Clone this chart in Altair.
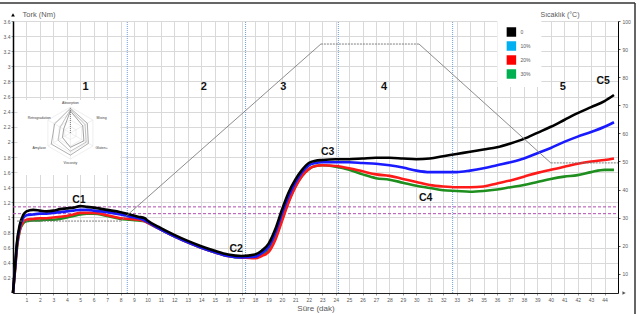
import math
import altair as alt
import pandas as pd

# ---------------- data ----------------
T = [0, 0.15, 0.3, 0.5, 0.75, 1, 1.5, 2, 2.5, 3, 3.5, 4, 4.5, 5, 5.5, 6, 7, 8, 8.7, 9.3, 9.8,
     10, 11, 12, 13, 14, 15, 16, 17, 18, 18.5, 19, 19.5, 20, 20.5, 21, 21.5, 22, 22.5, 23,
     24, 25, 26, 27, 28, 29, 30, 31, 32, 33, 34, 35, 36, 37, 38, 39, 40, 41, 42, 43, 44, 44.7]

black = [0, 0.35, 0.68, 0.90, 1.03, 1.08, 1.10, 1.09, 1.08, 1.09, 1.11, 1.12, 1.13, 1.15, 1.14, 1.13, 1.10, 1.07, 1.04, 1.01, 0.99,
         0.96, 0.86, 0.77, 0.69, 0.62, 0.56, 0.51, 0.49, 0.51, 0.56, 0.65, 0.84, 1.10, 1.33, 1.50, 1.63, 1.72, 1.75, 1.76,
         1.77, 1.77, 1.78, 1.79, 1.79, 1.78, 1.77, 1.78, 1.81, 1.84, 1.87, 1.90, 1.93, 1.98, 2.04, 2.12, 2.20, 2.29, 2.38, 2.46, 2.54, 2.62]
blue = [0, 0.33, 0.65, 0.87, 0.99, 1.03, 1.04, 1.05, 1.05, 1.06, 1.07, 1.08, 1.09, 1.10, 1.10, 1.09, 1.07, 1.04, 1.01, 0.99, 0.96,
        0.94, 0.84, 0.75, 0.67, 0.60, 0.54, 0.49, 0.47, 0.48, 0.53, 0.61, 0.79, 1.05, 1.28, 1.46, 1.60, 1.69, 1.72, 1.73,
        1.73, 1.73, 1.72, 1.71, 1.69, 1.66, 1.62, 1.60, 1.60, 1.60, 1.62, 1.65, 1.69, 1.73, 1.78, 1.85, 1.92, 2.00, 2.07, 2.13, 2.20, 2.26]
red = [0, 0.30, 0.62, 0.83, 0.94, 0.97, 0.98, 0.99, 0.99, 1.00, 1.01, 1.02, 1.04, 1.06, 1.06, 1.06, 1.03, 0.99, 0.98, 0.97, 0.95,
       0.93, 0.84, 0.75, 0.67, 0.60, 0.54, 0.49, 0.47, 0.46, 0.49, 0.54, 0.70, 0.95, 1.20, 1.40, 1.55, 1.64, 1.68, 1.69,
       1.68, 1.65, 1.61, 1.57, 1.55, 1.51, 1.47, 1.43, 1.41, 1.40, 1.40, 1.41, 1.45, 1.49, 1.54, 1.59, 1.63, 1.67, 1.71, 1.74, 1.76, 1.78]
green = [0, 0.30, 0.60, 0.82, 0.92, 0.95, 0.96, 0.96, 0.97, 0.97, 0.98, 1.00, 1.02, 1.04, 1.05, 1.05, 1.02, 0.98, 0.97, 0.96, 0.95,
         0.93, 0.84, 0.75, 0.67, 0.60, 0.54, 0.49, 0.47, 0.47, 0.50, 0.56, 0.72, 0.97, 1.21, 1.41, 1.55, 1.64, 1.68, 1.69,
         1.67, 1.63, 1.57, 1.52, 1.50, 1.46, 1.42, 1.39, 1.36, 1.35, 1.34, 1.35, 1.37, 1.40, 1.43, 1.47, 1.51, 1.54, 1.56, 1.60, 1.63, 1.63]

series_names = ["0", "10%", "20%", "30%"]
line_colors = ["#000000", "#1a1aff", "#ff1a1a", "#1e8f1e"]
legend_colors = ["#000000", "#00b0f0", "#ff0000", "#00b050"]

# temperature profile (°C)
temp_t = [0.3, 8.0, 22.9, 30.2, 40.0, 45.0]
temp_c = [28.8, 28.8, 91.8, 91.8, 49.5, 49.5]
temp_seg_kind = ["flat", "ramp", "flat", "ramp", "flat"]

# phase numbers and curve point labels
phase_labels = ["1", "2", "3", "4", "5"]
phase_t = [5.4, 14.2, 20.1, 27.6, 40.9]
phase_v = [2.73, 2.73, 2.73, 2.73, 2.73]

c_labels = ["C1", "C2", "C3", "C4", "C5"]
c_t = [4.9, 16.6, 23.4, 30.7, 43.9]
c_v = [1.23, 0.58, 1.87, 1.26, 2.80]

limit_lines = [1.14, 1.05]
phase_bounds = [8.5, 17.3, 24.2, 32.7]

# radar inset (Mixolab profiler)
radar_axes = ["Absorption", "Mixing", "Gluten+", "Viscosity", "Amylase", "Retrogradation"]
radar_s1 = [0.95, 0.75, 0.80, 0.85, 0.85, 0.70]
radar_s2 = [0.90, 0.65, 0.70, 0.70, 0.55, 0.45]
radar_s3 = [0.85, 0.55, 0.60, 0.55, 0.35, 0.30]
radar_colors = ["#8c8c8c", "#a6a6a6", "#7a7a7a"]

# ---------------- geometry ----------------
W, H = 605, 272
XMAX, YMAX = 45, 3.6
PXM = W / XMAX       # px per minute
PXN = H / YMAX       # px per Nm

xs = alt.Scale(domain=[0, XMAX], nice=False, zero=False)
ys = alt.Scale(domain=[0, YMAX], nice=False, zero=False)
FONT = "Liberation Sans"
GREY = "#595959"

xaxis = alt.Axis(values=list(range(1, 45)), grid=True, gridColor="#d9d9d9", gridWidth=1,
                 domainColor="#222222", domainWidth=1, tickSize=2, tickColor="#999999",
                 labelFontSize=5, labelColor=GREY, labelFont=FONT, labelPadding=2,
                 title="Süre (dak)", titleFont=FONT, titleFontSize=8, titleFontWeight="normal",
                 titleColor=GREY, titlePadding=2)
yaxis = alt.Axis(values=[round(0.2 * i, 1) for i in range(1, 19)], format="~g", grid=True,
                 gridColor="#d9d9d9", gridWidth=1, domainColor="#000000", domainWidth=1.5,
                 tickSize=2, tickColor="#999999", labelFontSize=5, labelColor=GREY, labelFont=FONT,
                 labelPadding=1,
                 title="Tork (Nm)", titleFont=FONT, titleFontSize=7.5, titleFontWeight="normal",
                 titleColor=GREY, titleAngle=0, titleAlign="left", titleBaseline="middle",
                 titleX=9, titleY=-7)


def X(f="t"):
    return alt.X(f"{f}:Q", scale=xs, axis=xaxis)


def Y(f="v"):
    return alt.Y(f"{f}:Q", scale=ys, axis=yaxis)


layers = []

# radar inset background
rx0, rx1, ry0, ry1 = 17, 120, 100, 175
box = pd.DataFrame({"t": [(rx0 - 12.6) / PXM], "t2": [(rx1 - 12.6) / PXM],
                    "v": [(293 - ry1) / PXN], "v2": [(293 - ry0) / PXN]})
layers.append(alt.Chart(box).mark_rect(color="white").encode(x=X(), x2="t2:Q", y=Y(), y2="v2:Q"))

# radar geometry
cx, cy = (70 - 12.6) / PXM, (293 - 133) / PXN
R = 26
angles = [90, 30, -30, -90, -150, 150]


def radar_pt(r, a, rxpx=R, rypx=R):
    return (cx + r * rxpx * math.cos(math.radians(a)) / PXM,
            cy + r * rypx * math.sin(math.radians(a)) / PXN)


grid_rows = []
for lvl in [0.25, 0.5, 0.75, 1.0]:
    for i, a in enumerate(angles + [angles[0]]):
        px, py = radar_pt(lvl, a)
        grid_rows.append({"g": f"h{lvl}", "o": i, "t": px, "v": py})
for k, a in enumerate(angles):
    for i, r in enumerate([0, 1]):
        px, py = radar_pt(r, a)
        grid_rows.append({"g": f"s{k}", "o": i, "t": px, "v": py})
layers.append(alt.Chart(pd.DataFrame(grid_rows)).mark_line(color="#e4e4e4", strokeWidth=0.6)
              .encode(x=X(), y=Y(), detail="g:N", order="o:Q"))

for vals, col in zip([radar_s1, radar_s2, radar_s3], radar_colors):
    rows = []
    for i, (val, a) in enumerate(zip(vals + [vals[0]], angles + [angles[0]])):
        px, py = radar_pt(val, a)
        rows.append({"o": i, "t": px, "v": py})
    layers.append(alt.Chart(pd.DataFrame(rows)).mark_line(strokeWidth=0.7, color=col)
                  .encode(x=X(), y=Y(), order="o:Q"))
# dotted axis on top spoke
sp = [radar_pt(0, 90), radar_pt(0.95, 90)]
layers.append(alt.Chart(pd.DataFrame({"t": [p[0] for p in sp], "v": [p[1] for p in sp]}))
              .mark_line(color="#666666", strokeWidth=0.8, strokeDash=[1, 1]).encode(x=X(), y=Y()))
lab_rows = []
for name, a in zip(radar_axes, angles):
    px, py = radar_pt(1.0, a, rxpx=36, rypx=30)
    lab_rows.append({"txt": name, "t": px, "v": py})
layers.append(alt.Chart(pd.DataFrame(lab_rows)).mark_text(fontSize=3.5, font=FONT, color="#444444")
              .encode(x=X(), y=Y(), text="txt:N"))

# legend box
lg = pd.DataFrame({"t": [(497 - 12.6) / PXM], "t2": [(541 - 12.6) / PXM],
                   "v": [(293 - 87) / PXN], "v2": [YMAX]})
layers.append(alt.Chart(lg).mark_rect(color="white").encode(x=X(), x2="t2:Q", y=Y(), y2="v2:Q"))
leg_v = [(293 - y) / PXN for y in [32, 46, 60, 74]]
for name, vv, col in zip(series_names, leg_v, legend_colors):
    d = pd.DataFrame({"s": [name], "t": [(511 - 12.6) / PXM], "v": [vv], "tt": [(520 - 12.6) / PXM]})
    layers.append(alt.Chart(d).mark_square(size=90, opacity=1, strokeWidth=0, color=col)
                  .encode(x=X(), y=Y()))
    layers.append(alt.Chart(d).mark_text(fontSize=5, font=FONT, color=GREY, align="left")
                  .encode(x=X("tt"), y=Y(), text="s:N"))

# purple dashed limit lines
lim_rows = []
for i, lv in enumerate(limit_lines):
    lim_rows += [{"k": i, "t": 0, "v": lv}, {"k": i, "t": XMAX, "v": lv}]
layers.append(alt.Chart(pd.DataFrame(lim_rows)).mark_line(color="#b04cb0", strokeWidth=1, strokeDash=[3, 2])
              .encode(x=X(), y=Y(), detail="k:N"))

# phase boundary lines
pb_rows = []
for i, tb in enumerate(phase_bounds):
    pb_rows += [{"k": i, "t": tb, "v": 0}, {"k": i, "t": tb, "v": YMAX}]
layers.append(alt.Chart(pd.DataFrame(pb_rows)).mark_line(color="#6f9fdc", strokeWidth=1, strokeDash=[1, 1])
              .encode(x=X(), y=Y(), detail="k:N"))

# torque curves (drawn back to front)
for name, vals, col in reversed(list(zip(series_names, [black, blue, red, green], line_colors))):
    df = pd.DataFrame({"t": T, "v": vals})
    layers.append(alt.Chart(df).mark_line(color=col, strokeWidth=2.6, interpolate="monotone")
                  .encode(x=X(), y=Y()))

# text labels
layers.append(alt.Chart(pd.DataFrame({"txt": phase_labels, "t": phase_t, "v": phase_v}))
              .mark_text(fontSize=11, font=FONT, fontWeight="bold", color="#111111")
              .encode(x=X(), y=Y(), text="txt:N"))
layers.append(alt.Chart(pd.DataFrame({"txt": c_labels, "t": c_t, "v": c_v}))
              .mark_text(fontSize=10.5, font=FONT, fontWeight="bold", color="#111111")
              .encode(x=X(), y=Y(), text="txt:N"))

# axis arrows
layers.append(alt.Chart(pd.DataFrame({"t": [0], "v": [YMAX + 0.08]}))
              .mark_point(shape="triangle-up", size=14, filled=True, color="#000000", opacity=1)
              .encode(x=X(), y=Y()))
layers.append(alt.Chart(pd.DataFrame({"t": [XMAX + 0.45], "v": [0]}))
              .mark_point(shape="triangle-right", size=14, filled=True, color="#555555", opacity=1)
              .encode(x=X(), y=Y()))

# outer frame (top and right)
layers.append(alt.Chart(pd.DataFrame({"t": [0]})).mark_rule(color="#333333", strokeWidth=1.5)
              .encode(x=alt.value(-13), x2=alt.value(622), y=alt.value(-18)))
layers.append(alt.Chart(pd.DataFrame({"t": [0]})).mark_rule(color="#333333", strokeWidth=1.5)
              .encode(x=alt.value(622), y=alt.value(-18), y2=alt.value(295)))

nm_layer = alt.layer(*layers)

# temperature profile on right axis
tscale = alt.Scale(domain=[3.2, 100], nice=False, zero=False)
taxis = alt.Axis(orient="right", values=list(range(10, 101, 10)), grid=False,
                 domainColor="#000000", domainWidth=1, tickSize=2, tickColor="#555555",
                 labelFontSize=5, labelColor=GREY, labelFont=FONT, labelPadding=2,
                 title="Sıcaklık (°C)", titleFont=FONT, titleFontSize=7, titleFontWeight="normal",
                 titleColor=GREY, titleAngle=0, titleAlign="left", titleBaseline="middle",
                 titleX=-78, titleY=-7)
trows = []
for i, kind in enumerate(temp_seg_kind):
    for j in (i, i + 1):
        trows.append({"seg": i, "kind": kind, "t": temp_t[j], "c": temp_c[j]})
tdf = pd.DataFrame(trows)
ty = alt.Y("c:Q", scale=tscale, axis=taxis)
temp_ramp = alt.Chart(tdf).transform_filter(alt.datum.kind == "ramp").mark_line(
    color="#808080", strokeWidth=0.9).encode(x=X(), y=ty, detail="seg:N")
temp_flat = alt.Chart(tdf).transform_filter(alt.datum.kind == "flat").mark_line(
    color="#707070", strokeWidth=0.9, strokeDash=[2, 1]).encode(x=X(), y=ty, detail="seg:N")
temp_layer = alt.layer(temp_ramp, temp_flat)

chart = alt.layer(nm_layer, temp_layer).resolve_scale(y="independent").properties(
    width=W, height=H,
    padding={"left": 13, "top": 21, "right": 22, "bottom": 21},
    autosize=alt.AutoSizeParams(type="none"),
    background="white",
).configure_view(strokeWidth=0)

chart.save("out.html", embed_options={"renderer": "svg", "actions": False})
